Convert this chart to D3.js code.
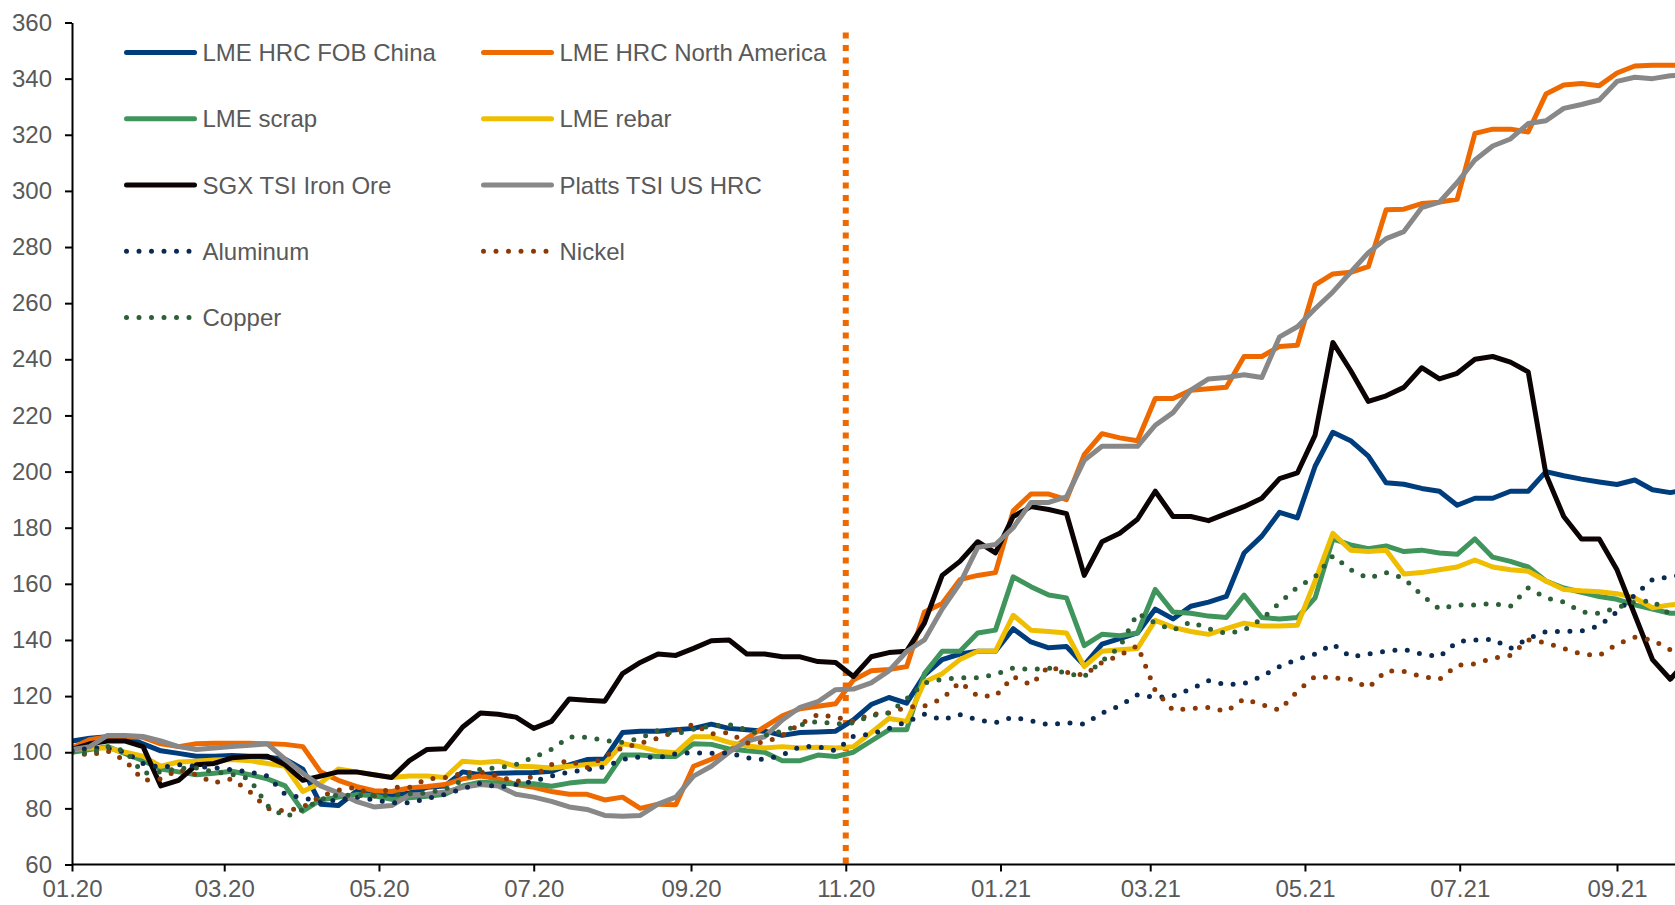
<!DOCTYPE html>
<html>
<head>
<meta charset="utf-8">
<script src="https://cdnjs.cloudflare.com/ajax/libs/d3/7.8.5/d3.min.js"></script>
<style>
  body { margin: 0; background: #fff; }
  text { font-family: "Liberation Sans", Arial, sans-serif; }
</style>
</head>
<body>
<div id="chart"></div>
<script>
// weekly observations, index = 100 on 01.01.2020
var dates = [
  "2020-01-01","2020-01-08","2020-01-15","2020-01-22","2020-01-29","2020-02-05","2020-02-12","2020-02-19","2020-02-26",
  "2020-03-04","2020-03-11","2020-03-18","2020-03-25","2020-04-01","2020-04-08","2020-04-15","2020-04-22","2020-04-29",
  "2020-05-06","2020-05-13","2020-05-20","2020-05-27","2020-06-03","2020-06-10","2020-06-17","2020-06-24",
  "2020-07-01","2020-07-08","2020-07-15","2020-07-22","2020-07-29","2020-08-05","2020-08-12","2020-08-19","2020-08-26",
  "2020-09-02","2020-09-09","2020-09-16","2020-09-23","2020-09-30","2020-10-07","2020-10-14","2020-10-21","2020-10-28",
  "2020-11-04","2020-11-11","2020-11-18","2020-11-25","2020-12-02","2020-12-09","2020-12-16","2020-12-23","2020-12-30",
  "2021-01-06","2021-01-13","2021-01-20","2021-01-27","2021-02-03","2021-02-10","2021-02-17","2021-02-24",
  "2021-03-03","2021-03-10","2021-03-17","2021-03-24","2021-03-31","2021-04-07","2021-04-14","2021-04-21","2021-04-28",
  "2021-05-05","2021-05-12","2021-05-19","2021-05-26","2021-06-02","2021-06-09","2021-06-16","2021-06-23","2021-06-30",
  "2021-07-07","2021-07-14","2021-07-21","2021-07-28","2021-08-04","2021-08-11","2021-08-18","2021-08-25",
  "2021-09-01","2021-09-08","2021-09-15","2021-09-22","2021-09-29"
];

var hrcChina = [104,105,105.5,105.5,103,100.5,99.6,98.6,98.6,98.8,98.6,98.2,97.5,94,81.5,81,86,85,84.5,85.5,87.5,88,93,92,92.5,92.7,92.8,93.2,95.5,97.4,97.6,107,107.5,107.5,108,108.5,110,108.5,108,107.5,106,107,107.2,107.5,111.5,117,119.5,117.5,127.5,133,135,136,136,144,139.3,137.2,137.7,131,138.5,140.5,142.5,151,147.5,152,153.5,155.5,171,177,185.5,183.5,201.9,214,211,205.5,196,195.5,194,193,188,190.5,190.5,193,193,200,198.5,197.3,196.3,195.4,197,193.5,192.5,193.6];
var hrcNorthAmerica = [101.5,104.5,105.5,105.5,105.3,103,102,103,103.2,103.2,103.2,103,102.8,102,93,90,87.8,86.3,86,87.3,87.8,88.5,90.5,91.5,90.5,88.5,87.5,86,85,85,83,84,80,81.5,81.3,95,97.5,100.5,105,109,113,115.5,116.4,117.3,125.7,129,129.5,130.5,150,153,161.5,163,164,186,192,192,190,206,213.5,212,211,226,226,229,229.5,230,241,241,244.6,245,266.5,270.4,271,273,293.3,293.5,295.5,296,297,320.5,322,322,321,334.5,337.7,338.3,337.5,342,344.5,344.8,344.8,344.8];
var scrap = [100,101,102,99.5,97,94,93,92,92.5,93.2,92,90.5,88,79,83,84,84.9,84.5,83.2,83.8,84.3,85,88,89.3,89,88.7,88.8,87.9,89,89.7,89.7,99,99,98.5,98.5,103,102.8,101.2,100.5,100,97,97,99,98.5,100,104,108,108,128,136,136,142.5,143.5,162.5,159,156,155,138,142,141.5,142.5,158,150,149.5,148.5,148,156,148,147.5,148,155,176,173.9,172.5,173.5,171.5,172,171,170.5,176,169.5,168,166,161,158.5,157,155.5,154.5,152.5,151,149.5,149.5];
var rebar = [101,101.5,101.5,100,98.6,95,96.5,96.8,97.2,97.4,97,96,95,86,89,94,93,92,91,91.5,91.5,91,96.8,96.3,96.8,95,94.8,94.4,95,95.6,96,103,102,100.3,99.8,105.5,105.5,103.5,102.3,101.5,102,101.5,101.8,101.5,102,107,112,111,125,128,133,136,136,148.8,143.5,143,142.5,130.5,136,136.5,137,147,144.5,143,142,144,146,145,145,145.2,161,178,172,171.5,172,163.5,164,165,166,168.5,166,165,164.5,161,158,157.5,157.2,156.5,155,151.5,152.5,153];
var ironOre = [101,103,104,104,102,88,90,95.5,96,98,98.5,98.6,95.5,90,91.5,93,93,92,91,97,101,101.2,109,114,113.5,112.5,108.5,111,119,118.5,118.2,128,132,135,134.5,137,139.7,140,135,135,134,134,132.3,132,127,134,135.5,136,146,163,168,175,171,184,187.5,186.5,185,163,175,178,183,193,184,184,182.5,185,187.5,190.5,197.5,199.5,213,246,236,225,227,230,237,233,235,240,241,239,235.5,199,184,176,176,165,149,133,126,133];
var plattsHrc = [101,102,106,106,105.6,104,102,101,101.5,102,102.5,103,97.5,92.5,88,85.5,82.5,80.5,81,84.8,85,85.8,87.5,88.5,88,85,84,82.5,80.5,79.6,77.5,77.2,77.5,81.5,84,91.5,95,100,104,105.5,111.5,116,118,122.3,122.5,124.7,129,135.9,140,151,160.2,173,174,180,189,189,191,204,209,209,209,216.5,221,229,233,233.5,234.5,233.5,248,251.6,258,264,271,278,283,285.5,294,296,303,311,316,318.5,324,325,329.4,330.8,332.4,339,340.5,340,341,341.5];
var aluminum = [100.5,101.5,101.5,100,96,94.5,95.6,95,94.5,93.8,93,91.5,85,83.8,82.3,83,84,83,82,82,83.5,85,87,89,87.5,88.5,89.7,91.5,93,93.8,94.8,97.4,98.4,98,99.5,99.8,99.6,99.8,98,97.4,99,102,102,100.5,105.7,106.5,108.5,110.8,113.5,111.5,113.4,111.5,110.5,112.5,111.2,109.8,110.5,110,114,116.5,120.5,119.5,120,122.5,125.5,124,124.5,127,130.5,133.1,135,138.5,134,135,136,136.6,135,134,139.4,140,140.2,137,140.5,143,143,143.2,145,150,156,161.5,162.5,163.5];
var nickel = [100,99,100.5,97,90,90.5,93.8,92,89.1,90.5,86,80,79,80.5,84.3,86.5,87.5,84.3,87.5,87.5,90.5,91,92.5,93,91.5,89.5,91.5,95.6,97,94.5,98.6,101.6,103.2,105,107.5,110,106.5,107,103.3,103.5,106,110,113.5,112.5,111,113.5,114,116,116.5,119,125,120,120,127,124,130.6,128.5,127.5,132,134.5,138,122,115,115.5,116,114.5,119,117,115,121.7,127,126.5,126,123,129,128.8,127,126,131,131.5,133.5,134.5,140,139,137,135,134.5,138.5,141,140,136.5,137.5];
var copper = [100,99.5,102,100.5,92.5,93,94.2,94.4,93,92.1,90.5,81,77,79.5,83.2,84.9,84.5,84.7,84.7,85.2,85.5,86.8,90,94,94.4,95.6,98.2,101,105.5,105.3,104.2,103.5,105,107.8,106.5,108.2,109.3,109.9,108,106,107.5,109.7,111,110,110.5,113,114,119,124.7,126,126.5,126.5,127.7,130,129.5,130,128,127,132.5,137.5,149.5,146,143.5,146.5,144,142.3,143.5,147.5,153.2,158.8,162.5,170,165,162,164,162,156,151,152.5,152.5,153,152,158.5,155,153.5,150,149.5,151.5,153.5,154,149,150];

var seriesNames = ["LME HRC FOB China", "LME HRC North America", "LME scrap", "LME rebar",
                   "SGX TSI Iron Ore", "Platts TSI US HRC", "Aluminum", "Nickel", "Copper"];
var yTicks = [60, 80, 100, 120, 140, 160, 180, 200, 220, 240, 260, 280, 300, 320, 340, 360];
var markerDate = "2020-11-01";

// styles
var seriesColors = ["#003D7C", "#EE6A00", "#3F955B", "#F0BE00", "#0C0404", "#888888", "#0B2A52", "#8B3A06", "#2D5F38"];
var seriesDotted = [false, false, false, false, false, false, true, true, true];

var svgWidth = 1675;
var svgHeight = 905;
var margin = {top: 22.5, right: 0, bottom: 40.5, left: 72};
var width = svgWidth - margin.left - margin.right;
var height = svgHeight - margin.top - margin.bottom;

var parseDate = d3.utcParse("%Y-%m-%d");

var svg = d3.select("#chart")
            .append("svg")
            .attr("width", svgWidth)
            .attr("height", svgHeight);

var chartGroup = svg.append("g")
                    .attr("transform", `translate(${margin.left},${margin.top})`);

// time scale: 01.20 .. 09.21 ticks, plot runs off the right edge
var xScale = d3.scaleUtc()
               .domain([parseDate("2020-01-01"), parseDate("2021-09-01")])
               .range([0, 1545]);
var yScale = d3.scaleLinear()
               .domain([60, 360])
               .range([height, 0]);

chartGroup.append("clipPath")
          .attr("id", "plotClip")
          .append("rect")
          .attr("x", 0)
          .attr("y", -10)
          .attr("width", width)
          .attr("height", height + 10);

var series = seriesNames.map(function(name, i) {
  var vals = [hrcChina, hrcNorthAmerica, scrap, rebar, ironOre, plattsHrc, aluminum, nickel, copper][i];
  return {
    name: name,
    color: seriesColors[i],
    dotted: seriesDotted[i],
    points: vals.map(function(v, j) { return {date: parseDate(dates[j]), value: v}; })
  };
});

var line = d3.line()
             .x(d => xScale(d.date))
             .y(d => yScale(d.value));

var linesGroup = chartGroup.append("g").attr("clip-path", "url(#plotClip)");

// vertical marker at 11.20
linesGroup.append("line")
          .attr("x1", xScale(parseDate(markerDate)))
          .attr("x2", xScale(parseDate(markerDate)))
          .attr("y1", 10)
          .attr("y2", height)
          .attr("stroke", "#EE6A00")
          .attr("stroke-width", 6)
          .attr("stroke-dasharray", "6 6.5");

linesGroup.selectAll("path.series")
          .data(series)
          .enter()
          .append("path")
          .attr("class", "series")
          .attr("fill", "none")
          .attr("stroke", d => d.color)
          .attr("stroke-width", d => d.dotted ? 5 : 5)
          .attr("stroke-linejoin", "round")
          .attr("stroke-linecap", "round")
          .attr("stroke-dasharray", d => d.dotted ? "0 12.5" : null)
          .attr("d", d => line(d.points));

// axes
var bottomAxis = d3.axisBottom(xScale)
                   .ticks(d3.utcMonth.every(2))
                   .tickFormat(d3.utcFormat("%m.%y"))
                   .tickSize(7)
                   .tickSizeOuter(0)
                   .tickPadding(8.5);
var leftAxis = d3.axisLeft(yScale)
                 .tickValues(yTicks)
                 .tickSize(7)
                 .tickSizeOuter(0)
                 .tickPadding(13);

var xAxisG = chartGroup.append("g")
                       .attr("transform", `translate(0,${height})`)
                       .call(bottomAxis);
xAxisG.select(".domain").attr("d", `M0,0H${width}`);
var yAxisG = chartGroup.append("g").call(leftAxis);

[xAxisG, yAxisG].forEach(function(g) {
  g.select(".domain").attr("stroke", "#000").attr("stroke-width", 2);
  g.selectAll(".tick line").attr("stroke", "#000").attr("stroke-width", 2);
  g.selectAll(".tick text")
   .attr("fill", "#595959")
   .style("font-size", "24px")
   .style("font-family", "'Liberation Sans', Arial, sans-serif");
});

// legend, two columns
var legend = svg.append("g");
series.forEach(function(s, i) {
  var col = i % 2;
  var row = Math.floor(i / 2);
  var lx = col === 0 ? 126.5 : 483.5;
  var ly = 52.5 + row * 66.25;
  var item = legend.append("g");
  item.append("line")
      .attr("x1", lx)
      .attr("x2", s.dotted ? lx + 63 : lx + 68)
      .attr("y1", ly)
      .attr("y2", ly)
      .attr("stroke", s.color)
      .attr("stroke-width", 5)
      .attr("stroke-linecap", "round")
      .attr("stroke-dasharray", s.dotted ? "0 12.5" : null);
  item.append("text")
      .attr("x", lx + 76)
      .attr("y", ly + 8.5)
      .attr("fill", "#595959")
      .style("font-size", "24px")
      .text(s.name);
});
</script>
</body>
</html>
